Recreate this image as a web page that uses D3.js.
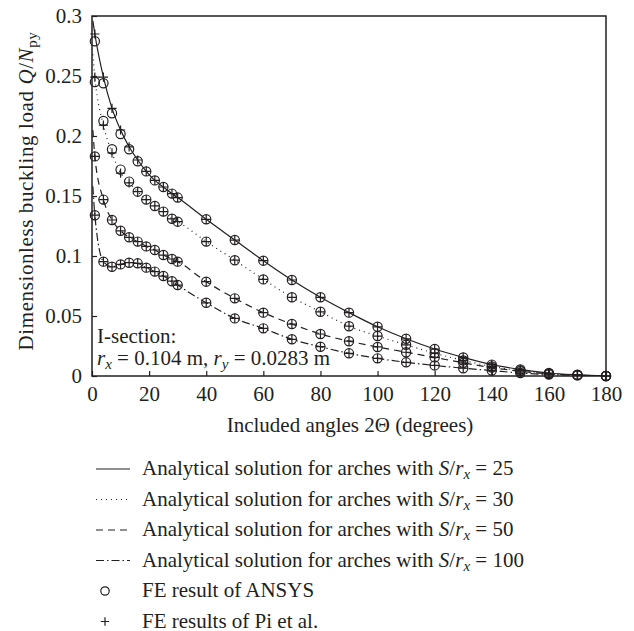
<!DOCTYPE html>
<html><head><meta charset="utf-8">
<script src="https://cdn.jsdelivr.net/npm/d3@7"></script>
<style>
html,body{margin:0;padding:0;background:#fff;}
svg{display:block;}
</style></head>
<body>
<svg id="chart" width="634" height="631"></svg>
<script>
// ---------- data ----------
const angles = [1,4,7,10,13,16,19,22,25,28,30,40,50,60,70,80,90,100,110,120,130,140,150,160,170,180];

// FE results of Pi et al. (lie on the analytical curves)
const piS25  = [0.285,0.249,0.223,0.205,0.191,0.180,0.1705,0.163,0.1575,0.152,0.1487,0.1306,0.1133,0.0961,0.080,0.0656,0.0528,0.041,0.031,0.0225,0.0155,0.0095,0.0055,0.0025,0.001,0];
const piS30  = [0.249,0.209,0.186,0.169,0.161,0.1536,0.147,0.1417,0.137,0.131,0.1286,0.112,0.0965,0.0805,0.0656,0.0535,0.0415,0.0333,0.026,0.019,0.013,0.008,0.0045,0.002,0.0008,0];
const piS50  = [0.183,0.147,0.130,0.121,0.1156,0.112,0.108,0.105,0.1008,0.0975,0.0953,0.0786,0.0647,0.0528,0.0433,0.035,0.029,0.0242,0.0198,0.0155,0.011,0.007,0.004,0.0018,0.0007,0];
const piS100 = [0.134,0.0953,0.091,0.093,0.0944,0.0939,0.0903,0.087,0.0833,0.079,0.0758,0.061,0.048,0.0397,0.0306,0.0244,0.0189,0.0147,0.0114,0.0088,0.0065,0.0045,0.0025,0.0012,0.0005,0];

// FE results of ANSYS
const ansysS25  = [0.279,0.244,0.219,0.2017,0.189,0.179,0.1705,0.163,0.1575,0.152,0.1487,0.1306,0.1133,0.0961,0.080,0.0656,0.0528,0.041,0.031,0.0225,0.0155,0.0095,0.0055,0.0025,0.001,0];
const ansysS30  = [0.245,0.2125,0.189,0.172,0.162,0.1536,0.147,0.1417,0.137,0.131,0.1286,0.112,0.0965,0.0805,0.0656,0.0535,0.0415,0.0333,0.026,0.019,0.013,0.008,0.0045,0.002,0.0008,0];
const ansysS50  = piS50.slice();
const ansysS100 = piS100.slice();

// analytical curves start near the vertical axis
const startAngle = 0.3;
const startValues = [0.296, 0.268, 0.205, 0.158];

const seriesRatios = ["25","30","50","100"];
const xTicks = [0,20,40,60,80,100,120,140,160,180];
const yTicks = [0,0.05,0.1,0.15,0.2,0.25,0.3];
const yTickLabels = ["0","0.05","0.1","0.15","0.2","0.25","0.3"];

// ---------- layout ----------
const FONT = "'Liberation Serif', 'DejaVu Serif', serif";
const FS = 21, SUB = 15;
const ink = "#231f20";
const svg = d3.select("#chart").attr("font-family", FONT);
const L = 92, R = 606, T = 16, B = 376;
const x = d3.scaleLinear().domain([0,180]).range([L,R]);
const y = d3.scaleLinear().domain([0,0.3]).range([B,T]);

const piSets = [piS25, piS30, piS50, piS100];
const ansysSets = [ansysS25, ansysS30, ansysS50, ansysS100];
const dashes = [null, "1,4", "7,5", "8,3,1.5,3"];

svg.append("defs").append("clipPath").attr("id","clip")
  .append("rect").attr("x",L).attr("y",T).attr("width",R-L).attr("height",B-T);

// axes (inward ticks)
const gx = svg.append("g").attr("transform",`translate(0,${B})`)
  .call(d3.axisBottom(x).tickValues(xTicks).tickSize(-5).tickPadding(10).tickFormat(d3.format("d")));
const gy = svg.append("g").attr("transform",`translate(${L},0)`)
  .call(d3.axisLeft(y).tickValues(yTicks).tickSize(-5).tickPadding(10).tickFormat((d,i)=>yTickLabels[i]));
[gx,gy].forEach(g=>{
  g.attr("font-family", FONT).attr("font-size", FS);
  g.select(".domain").remove();
  g.selectAll(".tick line").attr("stroke",ink).attr("stroke-width",1.2);
  g.selectAll(".tick text").attr("fill",ink).attr("font-family", FONT);
});
// frame
svg.append("rect").attr("x",L).attr("y",T).attr("width",R-L).attr("height",B-T)
  .attr("fill","none").attr("stroke",ink).attr("stroke-width",1.5);

// lines
const line = d3.line().x(d=>x(d[0])).y(d=>y(d[1])).curve(d3.curveMonotoneX);
const plotG = svg.append("g").attr("clip-path","url(#clip)");
piSets.forEach((vals,i)=>{
  const pts = [[startAngle,startValues[i]]].concat(angles.map((a,j)=>[a,vals[j]]));
  plotG.append("path").attr("d",line(pts)).attr("fill","none")
    .attr("stroke",ink).attr("stroke-width",1.2)
    .attr("stroke-dasharray",dashes[i]);
});

// markers
const mk = svg.append("g");
ansysSets.forEach(vals=>{
  mk.selectAll(null).data(angles.map((a,j)=>[a,vals[j]])).enter().append("circle")
    .attr("cx",d=>x(d[0])).attr("cy",d=>y(d[1])).attr("r",4.6)
    .attr("fill","none").attr("stroke",ink).attr("stroke-width",1.2);
});
piSets.forEach(vals=>{
  mk.selectAll(null).data(angles.map((a,j)=>[a,vals[j]])).enter().append("path")
    .attr("d",d=>{const cx=x(d[0]),cy=y(d[1]);return `M${cx-4.6},${cy}H${cx+4.6}M${cx},${cy-4.6}V${cy+4.6}`;})
    .attr("fill","none").attr("stroke",ink).attr("stroke-width",1.2);
});

function txt(sel, xx, yy){ return sel.append("text").attr("x",xx).attr("y",yy)
  .attr("font-family",FONT).attr("font-size",FS).attr("fill",ink); }

// annotation
txt(svg,97,343).text("I-section:");
const ann = txt(svg,97,365);
ann.append("tspan").attr("font-style","italic").text("r");
ann.append("tspan").attr("font-style","italic").attr("font-size",SUB).attr("dy",4).text("x");
ann.append("tspan").attr("dy",-4).text(" = 0.104 m, ");
ann.append("tspan").attr("font-style","italic").text("r");
ann.append("tspan").attr("font-style","italic").attr("font-size",SUB).attr("dy",4).text("y");
ann.append("tspan").attr("dy",-4).text(" = 0.0283 m");

// axis titles
txt(svg,350,432).attr("text-anchor","middle").text("Included angles 2Θ (degrees)");
const yt = svg.append("text").attr("transform",`translate(33,191) rotate(-90)`)
  .attr("text-anchor","middle").attr("font-family",FONT).attr("font-size",FS)
  .attr("letter-spacing",0.6).attr("fill",ink);
yt.append("tspan").text("Dimensionless buckling load ");
yt.append("tspan").attr("font-style","italic").text("Q");
yt.append("tspan").text("/");
yt.append("tspan").attr("font-style","italic").text("N");
yt.append("tspan").attr("font-size",SUB).attr("dy",4).text("py");

// legend
const legBase = [475, 505.5, 536, 566.5, 597, 627.5];
const lg = svg.append("g");
seriesRatios.forEach((r,i)=>{
  const by = legBase[i], my = by-6;
  lg.append("line").attr("x1",96).attr("x2",130).attr("y1",my).attr("y2",my)
    .attr("stroke",ink).attr("stroke-width",1.2).attr("stroke-dasharray",dashes[i]);
  const t = txt(lg,142,by);
  t.append("tspan").text("Analytical solution for arches with ");
  t.append("tspan").attr("font-style","italic").text("S");
  t.append("tspan").text("/");
  t.append("tspan").attr("font-style","italic").text("r");
  t.append("tspan").attr("font-style","italic").attr("font-size",SUB).attr("dy",4).text("x");
  t.append("tspan").attr("dy",-4).text(" = " + r);
});
lg.append("circle").attr("cx",105).attr("cy",legBase[4]-6).attr("r",4.2)
  .attr("fill","none").attr("stroke",ink).attr("stroke-width",1.2);
txt(lg,142,legBase[4]).text("FE result of ANSYS");
lg.append("path").attr("d",`M${105-4.2},${legBase[5]-6}H${105+4.2}M105,${legBase[5]-10.2}V${legBase[5]-1.8}`)
  .attr("fill","none").attr("stroke",ink).attr("stroke-width",1.2);
txt(lg,142,legBase[5]).text("FE results of Pi et al.");
</script>
</body></html>
